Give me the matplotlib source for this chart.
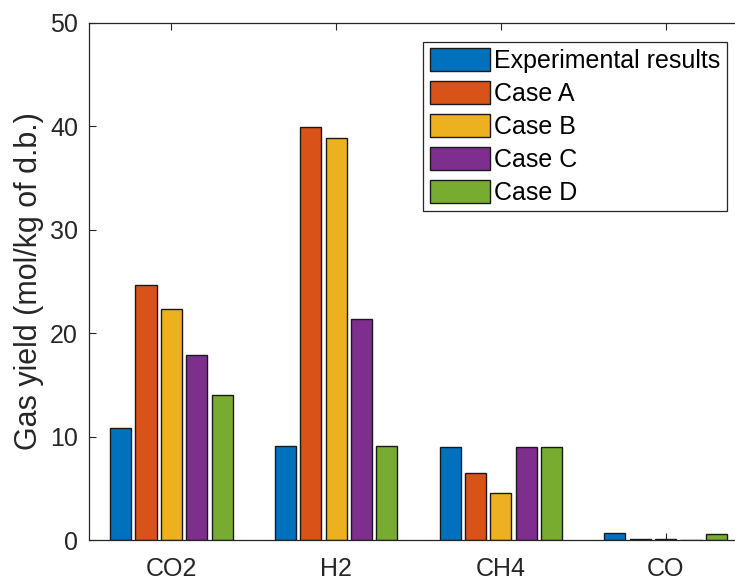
import numpy as np
import matplotlib.pyplot as plt

plt.rcParams['font.family'] = ['Liberation Sans', 'DejaVu Sans']

gases = ['CO2', 'H2', 'CH4', 'CO']
series = ['Experimental results', 'Case A', 'Case B', 'Case C', 'Case D']
experimental = [10.85, 9.1, 8.95, 0.7]
case_a = [24.7, 39.9, 6.5, 0.12]
case_b = [22.3, 38.9, 4.5, 0.12]
case_c = [17.9, 21.4, 8.95, 0.03]
case_d = [14.05, 9.1, 8.95, 0.58]
yticks = [0, 10, 20, 30, 40, 50]

colors = ['#0072BD', '#D95319', '#EDB120', '#7E2F8E', '#77AC30']
values = [experimental, case_a, case_b, case_c, case_d]

fig = plt.figure(figsize=(7.35, 5.81), dpi=100)
# axes box runs past the right edge of the picture, as in the reference crop
ax = fig.add_axes([89 / 735, 41 / 581, 659 / 735, 517 / 581])

x = np.arange(1, len(gases) + 1)
step = 0.154
for i, (vals, lab, col) in enumerate(zip(values, series, colors)):
    ax.bar(x + (i - 2) * step, vals, width=0.128, color=col,
           edgecolor='#1a1a1a', linewidth=1.0, label=lab, zorder=2)

ax.set_xlim(0.5, 4.5)
ax.set_ylim(0, 50)
ax.set_xticks(x)
ax.set_xticklabels(gases)
ax.set_yticks(yticks)
ax.set_ylabel('Gas yield (mol/kg of d.b.)', fontsize=22, color='#262626', labelpad=4)
ax.tick_params(direction='in', length=5, width=0.8, top=True, right=True,
               labelsize=18, colors='#262626')
ax.tick_params(axis='y', pad=8)
ax.tick_params(axis='x', pad=12)
for s in ax.spines.values():
    s.set_color('#262626')
    s.set_linewidth(0.9)

leg = ax.legend(loc='upper right', bbox_to_anchor=(727 / 735, 1 - 42 / 581),
                bbox_transform=fig.transFigure, borderaxespad=0,
                fontsize=18, handlelength=2.4, handleheight=1.0,
                labelspacing=0.33, handletextpad=0.2, borderpad=0.25,
                fancybox=False, framealpha=1, edgecolor='#262626')
leg.get_frame().set_linewidth(0.9)

fig.savefig('out.png', dpi=100)
